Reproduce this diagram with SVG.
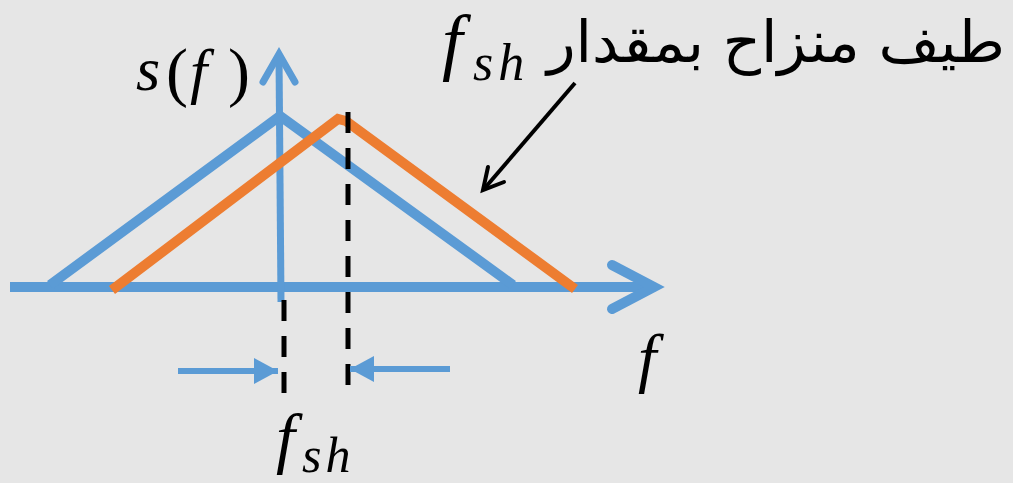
<svg xmlns="http://www.w3.org/2000/svg" width="1013" height="483" viewBox="0 0 1013 483">
<style>
.bl{stroke:#5B9BD5;fill:none}
.or{stroke:#ED7D31;fill:none;stroke-width:10}
.dash{stroke:#000;stroke-width:5;stroke-dasharray:21 15;fill:none}
.m{font-family:"Liberation Serif",serif;font-style:italic;fill:#000}
.up{font-family:"Liberation Serif",serif;font-style:normal;fill:#000}
</style>
<defs>
<marker id="tri" markerUnits="userSpaceOnUse" markerWidth="30" markerHeight="30" refX="24" refY="13" orient="auto">
<path d="M0,0 L24,13 L0,26 Z" fill="#5B9BD5"/>
</marker>
</defs>
<rect width="1013" height="483" fill="#E6E6E6"/>
<g id="connectors">
<path class="bl" d="M10,287 H652" stroke-width="10"/>
<path class="bl" d="M612,265 L654,287 L612,309" stroke-width="10" stroke-linecap="round" stroke-linejoin="miter"/>
<path class="bl" d="M281,302 L279,56" stroke-width="7"/>
<path class="bl" d="M263,82 L279,54 L295,82" stroke-width="7" stroke-linecap="round"/>
<path class="bl" d="M50,285 L280,116 L513,285" stroke-width="10"/>
<path class="or" d="M112,290 L338,119 L346,121 L575,289"/>
<path class="dash" d="M348,112 V392"/>
<path class="dash" d="M284,300 V396"/>
<path d="M178,371 H278" stroke="#5B9BD5" stroke-width="6" marker-end="url(#tri)"/>
<path d="M450,369 H350" stroke="#5B9BD5" stroke-width="6" marker-end="url(#tri)"/>
<path d="M575,83 L484,189" stroke="#000" stroke-width="4"/>
<path d="M488,167 L483,190 L504,182" stroke="#000" stroke-width="4" fill="none" stroke-linecap="round"/>
</g>
<g id="label-sf" font-size="62">
<text class="m" x="136" y="90">s</text>
<text class="up" x="166" y="94" font-size="66">(</text>
<text class="m" x="190" y="92">f</text>
<text class="up" x="228" y="94" font-size="66">)</text>
</g>
<g id="label-f">
<text class="m" x="638" y="380" font-size="66">f</text>
</g>
<g id="label-fsh-bottom">
<text class="m" x="276" y="461" font-size="68">f</text>
<text class="m" x="302" y="472" font-size="50" letter-spacing="4">sh</text>
</g>
<g id="label-top">
<text class="m" x="442" y="66" font-size="74">f</text>
<text class="m" x="473" y="80" font-size="52" letter-spacing="5">sh</text>
<text x="1005" y="62" font-size="58" text-anchor="start" direction="rtl" textLength="458" lengthAdjust="spacingAndGlyphs" font-family="'DejaVu Sans',sans-serif" fill="#000">طيف منزاح بمقدار</text>
</g>
</svg>
